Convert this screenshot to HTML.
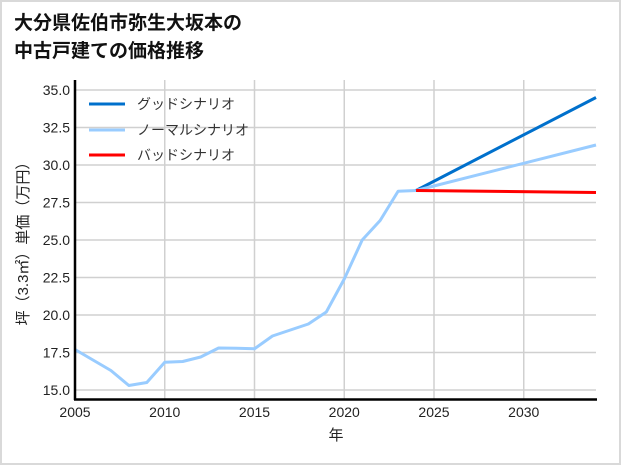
<!DOCTYPE html>
<html><head><meta charset="utf-8"><style>
body{margin:0;background:#fff}
svg{display:block;font-family:"Liberation Sans","Noto Sans CJK JP",sans-serif}
</style></head><body>
<svg width="621" height="465" viewBox="0 0 621 465">
<rect x="1" y="1" width="619" height="463" fill="#fff" stroke="#d9d9d9" stroke-width="2"/>
<text x="14" y="29" font-size="19" font-weight="bold" fill="#111">大分県佐伯市弥生大坂本の</text>
<text x="14" y="57" font-size="19" font-weight="bold" fill="#111">中古戸建ての価格推移</text>
<g stroke="#d0d0d0" stroke-width="1.5">
<line x1="164.75" y1="80" x2="164.75" y2="399"/><line x1="254.5" y1="80" x2="254.5" y2="399"/>
<line x1="344.25" y1="80" x2="344.25" y2="399"/><line x1="434" y1="80" x2="434" y2="399"/>
<line x1="523.75" y1="80" x2="523.75" y2="399"/>
<line x1="75" y1="390" x2="596" y2="390"/><line x1="75" y1="352.5" x2="596" y2="352.5"/>
<line x1="75" y1="315" x2="596" y2="315"/><line x1="75" y1="277.5" x2="596" y2="277.5"/>
<line x1="75" y1="240" x2="596" y2="240"/><line x1="75" y1="202.5" x2="596" y2="202.5"/>
<line x1="75" y1="165" x2="596" y2="165"/><line x1="75" y1="127.5" x2="596" y2="127.5"/>
<line x1="75" y1="90" x2="596" y2="90"/>
</g>
<g fill="none" stroke-width="3" stroke-linejoin="round">
<polyline stroke="#99ccff" points="75,349.5 92.95,360 110.9,370.5 128.85,385.5 146.8,382.5 164.75,362.25 182.7,361.5 200.65,357 218.6,348 236.55,348.3 254.5,348.75 272.45,336 290.4,330 308.35,324 326.3,312 344.25,279 362.2,240 380.15,220.5 398.1,191.25 416.05,190.5"/>
<line stroke="#0070cc" x1="416.05" y1="190.5" x2="596" y2="97.5"/>
<line stroke="#99ccff" x1="416.05" y1="190.5" x2="596" y2="145"/>
<line stroke="#ff0000" x1="416.05" y1="190.5" x2="596" y2="192.5"/>
</g>
<g stroke="#000" stroke-width="2.5"><line x1="75" y1="80" x2="75" y2="400"/><line x1="74" y1="399.5" x2="597" y2="399.5"/></g>
<g font-size="14" fill="#222" text-anchor="end">
<text x="70" y="395">15.0</text><text x="70" y="357.5">17.5</text><text x="70" y="320">20.0</text>
<text x="70" y="282.5">22.5</text><text x="70" y="245">25.0</text><text x="70" y="207.5">27.5</text>
<text x="70" y="170">30.0</text><text x="70" y="132.5">32.5</text><text x="70" y="95">35.0</text>
</g>
<g font-size="14" fill="#222" text-anchor="middle">
<text x="75" y="417">2005</text><text x="164.75" y="417">2010</text><text x="254.5" y="417">2015</text>
<text x="344.25" y="417">2020</text><text x="434" y="417">2025</text><text x="523.75" y="417">2030</text>
<text x="336" y="440" font-size="15">年</text>
<text transform="translate(28,240) rotate(-90)" font-size="15">坪（3.3㎡）単価（万円）</text>
</g>
<g stroke-width="3">
<line x1="89" y1="104" x2="125" y2="104" stroke="#0070cc"/>
<line x1="89" y1="130" x2="125" y2="130" stroke="#99ccff"/>
<line x1="89" y1="155" x2="125" y2="155" stroke="#ff0000"/>
</g>
<g font-size="14" fill="#333">
<text x="137" y="109">グッドシナリオ</text>
<text x="137" y="135">ノーマルシナリオ</text>
<text x="137" y="160">バッドシナリオ</text>
</g>
</svg>
</body></html>
